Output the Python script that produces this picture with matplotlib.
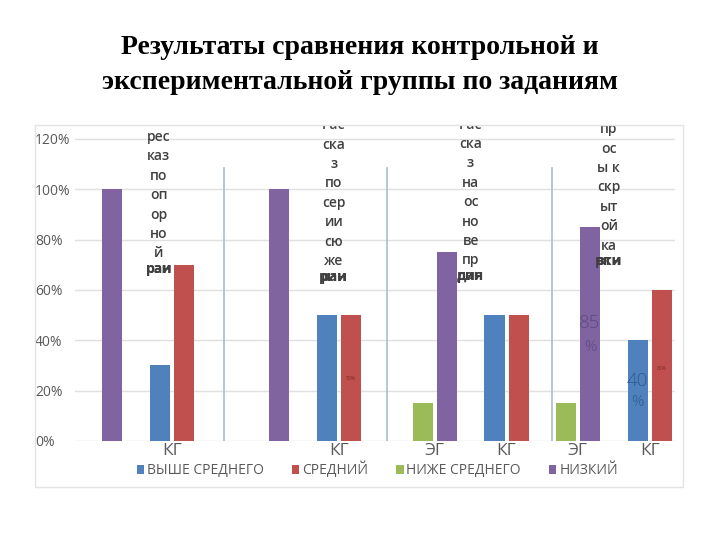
import matplotlib
matplotlib.use("Agg")
import matplotlib.pyplot as plt
from matplotlib.patches import Patch, Rectangle

# ---------------- data ----------------
categories = ['ЭГ', 'КГ', 'ЭГ', 'КГ', 'ЭГ', 'КГ', 'ЭГ', 'КГ']
tick_labels = ['', 'КГ', '', 'КГ', 'ЭГ', 'КГ', 'ЭГ', 'КГ']
series_names = ['ВЫШЕ СРЕДНЕГО', 'СРЕДНИЙ', 'НИЖЕ СРЕДНЕГО', 'НИЗКИЙ']
above_avg = [0.00, 0.30, 0.00, 0.50, 0.00, 0.50, 0.00, 0.40]
average = [0.00, 0.70, 0.00, 0.50, 0.00, 0.50, 0.00, 0.60]
below_avg = [0.00, 0.00, 0.00, 0.00, 0.15, 0.00, 0.15, 0.00]
low = [1.00, 0.00, 1.00, 0.00, 0.75, 0.00, 0.85, 0.00]
y_ticks = [0, 0.2, 0.4, 0.6, 0.8, 1.0, 1.2]
y_tick_labels = ['0%', '20%', '40%', '60%', '80%', '100%', '120%']

# wrapped task captions (as they appear broken in the picture)
task_lines = [
    ['Пе', 'рес', 'каз', 'по', 'оп', 'ор', 'но', 'й'],
    ['Рас', 'ска', 'з', 'по', 'сер', 'ии', 'сю', 'же'],
    ['Рас', 'ска', 'з', 'на', 'ос', 'но', 'ве', 'пр'],
    ['Во', 'пр', 'ос', 'ы к', 'скр', 'ыт', 'ой', 'ка'],
]
task_overflow = [['рзи', 'ран'], ['рии', 'ран'], ['дан', 'рия'], ['рки', 'втн']]

title = 'Результаты сравнения контрольной и\nэкспериментальной группы по заданиям'

# ---------------- layout ----------------
colors = ['#4f81bd', '#c0504d', '#9bbb59', '#8064a2']
group_start = [0.0, 2.32, 4.65, 6.64]
slot = 0.167
bar_w = 0.28
offsets = [-slot, slot, -slot, slot]
separators = [1.72, 3.99, 6.28]
task_x = [0.82, 3.25, 5.15, 7.07]
task_top = [1.285, 1.255, 1.257, 1.316]
line_step = 0.0771

positions = []
for g in group_start:
    positions += [g, g + 1.0]

plt.rcParams['font.family'] = ['Open Sans', 'DejaVu Sans']
fig = plt.figure(figsize=(7.2, 5.4), dpi=100)

# chart frame
fig.patches.append(Rectangle((35 / 720, 1 - 487 / 540), (683 - 35) / 720, (487 - 125) / 540,
                             transform=fig.transFigure, fill=False,
                             edgecolor='#e3e3e3', linewidth=1.0))

ax = fig.add_axes([75 / 720, 1 - 441 / 540, 600 / 720, (441 - 125) / 540])
ax.set_xlim(-0.347, 7.99)
ax.set_ylim(0, 1.2556)

for vals, off, col in zip([above_avg, average, below_avg, low], offsets, colors):
    ax.bar([p + off for p in positions], vals, width=bar_w, color=col, zorder=3)

for s in separators:
    ax.plot([s, s], [0, 1.085], color='#a9bccc', linewidth=1.2, zorder=2)

ax.set_yticks(y_ticks)
ax.set_yticklabels(y_tick_labels)
ax.grid(axis='y', color='#e0e0e0', linewidth=1.0, zorder=0)
for sp in ax.spines.values():
    sp.set_visible(False)
ax.tick_params(axis='y', length=0, pad=28.8, labelsize=10, labelcolor='#595959')
for lab in ax.get_yticklabels():
    lab.set_horizontalalignment('left')
ax.set_xticks(positions)
ax.set_xticklabels(tick_labels)
ax.tick_params(axis='x', length=0, pad=1.5, labelsize=12.5, labelcolor='#595959')

# task captions
for x, top, lines, over in zip(task_x, task_top, task_lines, task_overflow):
    for i, t in enumerate(lines):
        ax.text(x, top - i * line_step, t, ha='center', va='center', fontsize=10,
                color='#404040', fontweight='semibold', clip_on=True, zorder=5)
    yo = top - (len(lines) - 1) * line_step - 0.8 * line_step
    for t in over:
        ax.text(x, yo, t, ha='center', va='center', fontsize=10, color='#404040',
                fontweight='bold', clip_on=True, zorder=5)

# value labels
p_low4 = positions[6] + offsets[3]
ax.text(p_low4, 0.469, '85', ha='center', va='center', fontsize=13.5, color='#5a4a7e',
        fontweight='light', zorder=6)
ax.text(p_low4, 0.373, '%', ha='center', va='center', fontsize=11, color='#5a4a7e',
        fontweight='light', zorder=6)
p_ab4 = positions[7] + offsets[0]
ax.text(p_ab4, 0.238, '40', ha='center', va='center', fontsize=13.5, color='#2f5a8c',
        fontweight='light', zorder=6)
ax.text(p_ab4, 0.151, '%', ha='center', va='center', fontsize=11, color='#2f5a8c',
        fontweight='light', zorder=6)
ax.text(positions[3] + offsets[1], 0.25, '50%', ha='center', va='center', fontsize=3.5,
        color='#7a2a28', zorder=6)
ax.text(positions[7] + offsets[1], 0.29, '60%', ha='center', va='center', fontsize=3.5,
        color='#7a2a28', zorder=6)

# legend
handles = [Patch(facecolor=c, edgecolor='none') for c in colors]
fig.legend(handles, series_names, loc='center', bbox_to_anchor=(0.524, 1 - 470 / 540),
           ncol=4, frameon=False, fontsize=10, labelcolor='#595959',
           handlelength=0.55, handleheight=0.55, handletextpad=0.2, columnspacing=2.0)

fig.text(0.5, 1 - 65 / 540, title, ha='center', va='center', fontsize=20,
         fontweight='bold', family=['Liberation Serif', 'DejaVu Serif'], linespacing=1.5)

fig.savefig('out.png', dpi=100)
